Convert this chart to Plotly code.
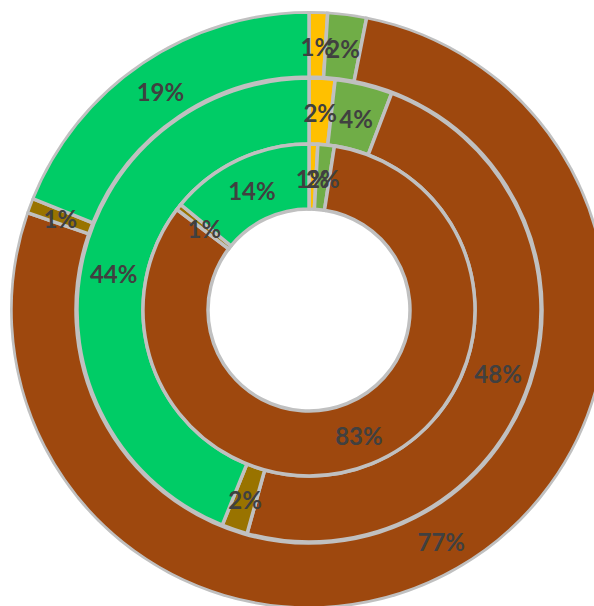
import plotly.graph_objects as go

# segment order, clockwise from 12 o'clock
categories = ["Yellow", "Light green", "Brown", "Olive", "Green"]
colors = ["#FFC000", "#70AD47", "#9E480E", "#997300", "#00CC66"]

# percentage values per ring
outer_vals = [1.0, 2.1, 77.2, 0.8, 18.9]
middle_vals = [1.8, 4.0, 48.5, 1.8, 43.9]
inner_vals = [0.85, 1.6, 82.9, 0.6, 14.05]

# ring radii (radial axis units): inner edge, outer edge
rings = [
    (outer_vals, 233, 298),
    (middle_vals, 166, 232),
    (inner_vals, 101, 166),
]

fig = go.Figure()

for vals, r0, r1 in rings:
    total = sum(vals)
    mids, widths, cum = [], [], 0
    for v in vals:
        widths.append(v / total * 360)
        mids.append((cum + v / 2) / total * 360)
        cum += v
    fig.add_trace(go.Barpolar(
        theta=mids, width=widths, base=[r0] * len(vals), r=[r1 - r0] * len(vals),
        marker=dict(color=colors, line=dict(color="#C0C0C0", width=3.5)),
        hoverinfo="skip", showlegend=False,
    ))
    # labels sit on a twin polar that is nudged a few px down (Excel-like placement)
    fig.add_trace(go.Scatterpolar(
        theta=mids, r=[(r0 + r1) / 2] * len(vals), mode="text",
        text=[f"{round(v)}%" for v in vals],
        textfont=dict(family="Lato", size=24, color="#404040", weight="bold"),
        hoverinfo="skip", showlegend=False, subplot="polar2",
    ))

W, H = 618, 620
cx, cy, R = 309, 310, 299
dy = 5
axes = dict(
    radialaxis=dict(visible=False, range=[0, 299]),
    angularaxis=dict(visible=False, rotation=90, direction="clockwise"),
)
fig.update_layout(
    width=W, height=H,
    margin=dict(l=0, r=0, t=0, b=0),
    paper_bgcolor="white",
    polar=dict(
        domain=dict(x=[(cx - R) / W, (cx + R) / W], y=[(H - cy - R) / H, (H - cy + R) / H]),
        bgcolor="white", **axes,
    ),
    polar2=dict(
        domain=dict(x=[(cx - R) / W, (cx + R) / W], y=[(H - cy - R - dy) / H, (H - cy + R - dy) / H]),
        bgcolor="rgba(0,0,0,0)", **axes,
    ),
)

fig.write_html("out.html", config={"displayModeBar": False},
               post_script="document.body.style.margin='0';document.body.style.overflow='hidden';")
